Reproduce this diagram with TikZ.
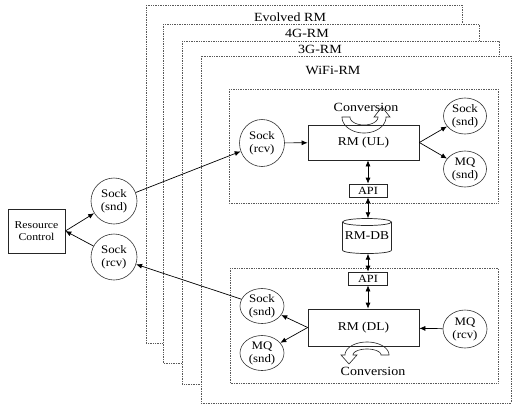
\documentclass[tikz,border=0pt]{standalone}
\usepackage{fontspec}
\setmainfont[FakeStretch=1.12]{Liberation Serif}
\usetikzlibrary{arrows.meta,shapes.geometric}
\begin{document}
\begin{tikzpicture}[x=1pt,y=-1pt,
  outerbox/.style={draw=black!65, densely dotted, fill=white, line width=0.7pt},
  innerbox/.style={draw=black!65, densely dotted, line width=0.7pt},
  ell/.style={ellipse, draw=black!80, line width=0.6pt, inner sep=0pt, align=center, font=\fontsize{11.5}{13}\selectfont},
  blk/.style={rectangle, draw=black!85, line width=0.7pt, inner sep=0pt, align=center},
  arr/.style={-{Latex[length=6pt,width=5pt]}, line width=0.7pt},
  darr/.style={{Latex[length=6pt,width=5pt]}-{Latex[length=6pt,width=5pt]}, line width=0.7pt},
  ttl/.style={font=\fontsize{12.5}{13}\selectfont, inner sep=0pt},
  conv/.style={draw=black!85, line width=0.6pt}]
\useasboundingbox (0,0) rectangle (513,405);
\fill[white] (0,0) rectangle (513,405);
% stacked RM frames
\draw[outerbox] (146,5) rectangle (462,343);
\node[ttl] (tEvo) at (290,17) {Evolved RM};
\draw[outerbox] (163,24) rectangle (479,363);
\node[ttl] (t4G) at (307,33) {4G-RM};
\draw[outerbox] (182,41) rectangle (499,384);
\node[ttl] (t3G) at (320,49) {3G-RM};
\draw[outerbox] (201,56) rectangle (511,403);
\node[ttl] (tWiFi) at (333,70) {WiFi-RM};
% inner UL / DL frames
\draw[innerbox] (229,89) rectangle (498,203);
\draw[innerbox] (230,268) rectangle (498,383);
% left side
\node[blk, minimum width=57pt, minimum height=44pt, font=\fontsize{10.5}{12.5}\selectfont] (RC) at (36.5,231) {Resource\\Control};
\node[ell, minimum width=46pt, minimum height=46pt] (LS) at (114,201) {Sock\\(snd)};
\node[ell, minimum width=46pt, minimum height=46pt] (LR) at (114,257) {Sock\\(rcv)};
% UL
\node[ell, minimum width=45pt, minimum height=47pt] (UR) at (262,143) {Sock\\(rcv)};
\node[blk, minimum width=111pt, minimum height=35pt, font=\fontsize{12}{13}\selectfont] (RMUL) at (363.5,142.5) {RM (UL)};
\node[ell, minimum width=43pt, minimum height=36pt] (US) at (465,116) {Sock\\(snd)};
\node[ell, minimum width=43pt, minimum height=36pt] (UM) at (465,169) {MQ\\(snd)};
\node[blk, minimum width=38pt, minimum height=13pt, font=\fontsize{11}{12}\selectfont] (API1) at (368,190.5) {API};
\node[font=\fontsize{12.5}{13}\selectfont, inner sep=0pt] (cUL) at (366,107) {Conversion};
% DB
\node[minimum width=49pt, minimum height=35pt, inner sep=0pt, font=\fontsize{12}{13}\selectfont] (DB) at (367,236) {RM-DB};
\draw[line width=0.7pt, black!85] (367,222) ellipse [x radius=24.5, y radius=3.5];
\draw[line width=0.7pt, black!85] (342.5,222) -- (342.5,250) .. controls (342.5,254.7) and (391.5,254.7) .. (391.5,250) -- (391.5,222);
% DL
\node[blk, minimum width=39pt, minimum height=13pt, font=\fontsize{11}{12}\selectfont] (API2) at (368,278.5) {API};
\node[blk, minimum width=111pt, minimum height=37pt, font=\fontsize{12}{13}\selectfont] (RMDL) at (363.5,327.5) {RM (DL)};
\node[ell, minimum width=44pt, minimum height=35pt] (DS) at (262,306) {Sock\\(snd)};
\node[ell, minimum width=44pt, minimum height=35pt] (DM) at (262,353) {MQ\\(snd)};
\node[ell, minimum width=44pt, minimum height=38pt] (DR) at (465,329) {MQ\\(rcv)};
\node[font=\fontsize{12.5}{13}\selectfont, inner sep=0pt] (cDL) at (373,371) {Conversion};
% conversion arrows
\draw[conv] plot[domain=180:0, samples=40] ({364+22*cos(\x)},{117+16*sin(\x)})
  -- (390,117) -- (382,107) -- (374,117)
  -- plot[domain=0:180, samples=40] ({364+14*cos(\x)},{117+8*sin(\x)}) -- cycle;
\draw[conv] plot[domain=0:-180, samples=40] ({367+22*cos(\x)},{355+13*sin(\x)})
  -- (341,355) -- (349,364) -- (357,355)
  -- plot[domain=-180:0, samples=40] ({367+14*cos(\x)},{355+6*sin(\x)}) -- cycle;
% connectors
\draw[arr] (RC.east) -- (LS);
\draw[arr] (LR) -- (RC.east);
\draw[arr] (LS) -- (UR);
\draw[arr] (DS) -- (LR);
\draw[arr] (UR) -- (RMUL);
\draw[arr] (RMUL.east) -- (US);
\draw[arr] (RMUL.east) -- (UM);
\draw[darr] (API1.north) -- (API1.north |- RMUL.south);
\draw[darr] (API1.south) -- (API1.south |- DB.north);
\draw[darr] (API2.north |- DB.south) -- (API2.north);
\draw[darr] (API2.south) -- (API2.south |- RMDL.north);
\draw[arr] (RMDL.west) -- (DS);
\draw[arr] (RMDL.west) -- (DM);
\draw[arr] (DR) -- (RMDL);
\end{tikzpicture}
\end{document}
